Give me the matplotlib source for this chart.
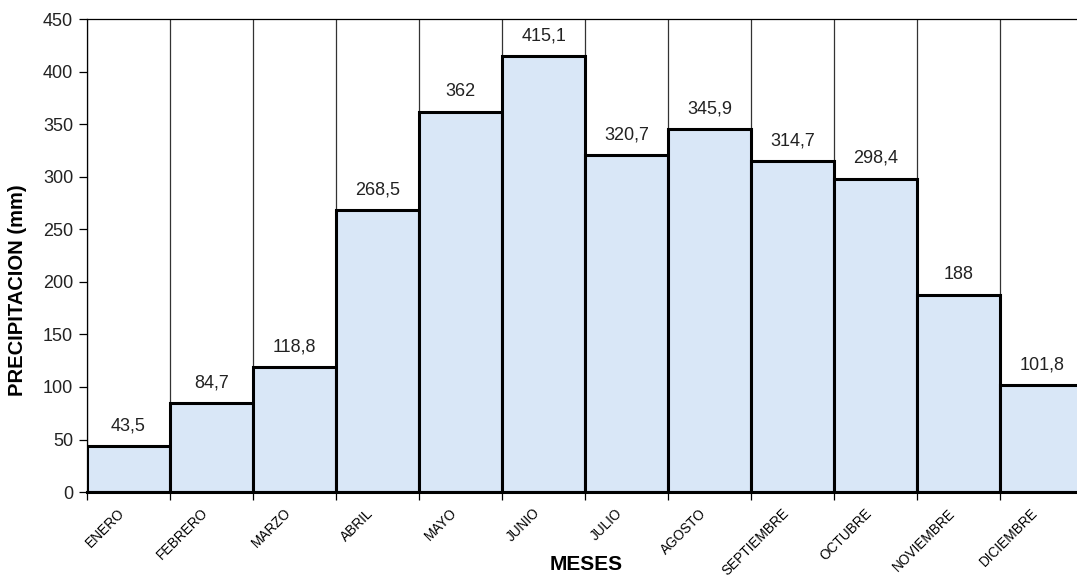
import numpy as np
import matplotlib
matplotlib.use("Agg")
import matplotlib.pyplot as plt
import matplotlib.transforms as mtransforms

plt.rcParams['font.family'] = ['Liberation Sans', 'DejaVu Sans']

# datos
meses = ["ENERO", "FEBRERO", "MARZO", "ABRIL", "MAYO", "JUNIO", "JULIO",
         "AGOSTO", "SEPTIEMBRE", "OCTUBRE", "NOVIEMBRE", "DICIEMBRE"]
precipitacion = [43.5, 84.7, 118.8, 268.5, 362, 415.1, 320.7, 345.9,
                 314.7, 298.4, 188, 101.8]

fig = plt.figure(figsize=(10.77, 5.83), dpi=100)
ax = fig.add_axes([0.0808, 0.156, 0.925, 0.811])

x = np.arange(len(meses))
ax.bar(x, precipitacion, width=1.0, color="#d9e7f7", edgecolor="black",
       linewidth=2.2, zorder=3)

# lineas verticales entre meses
for b in np.arange(-0.5, len(meses) + 0.5, 1.0):
    ax.axvline(b, color="#333333", linewidth=0.9, zorder=1)

# etiquetas de valores
for xi, v in zip(x, precipitacion):
    txt = f"{v:g}".replace(".", ",")
    ax.text(xi, v + 11, txt, ha="center", va="bottom", fontsize=13,
            color="#222222", zorder=4)

ax.set_xlim(-0.5, len(meses) - 0.5)
ax.set_ylim(0, 450)
ax.set_yticks(np.arange(0, 451, 50))
ax.tick_params(axis="y", labelsize=13, length=6, width=0.9, pad=4,
               labelcolor="#222222")

ax.set_xticks(np.arange(-0.5, len(meses) + 0.5, 1.0))
ax.set_xticklabels([])
ax.tick_params(axis="x", which="major", length=6, width=0.9)
ax.set_xticks(x, minor=True)
ax.set_xticklabels(meses, minor=True, rotation=45, ha="right",
                   rotation_mode="anchor", fontsize=9.8)
ax.tick_params(axis="x", which="minor", length=0, pad=10)
shift = mtransforms.ScaledTranslation(-11 / 100, 0, fig.dpi_scale_trans)
for lbl in ax.get_xticklabels(minor=True):
    lbl.set_transform(lbl.get_transform() + shift)

ax.spines["right"].set_visible(False)
ax.spines["top"].set_linewidth(0.9)
ax.spines["left"].set_linewidth(0.9)
ax.spines["bottom"].set_linewidth(2.2)
ax.spines["bottom"].set_zorder(5)

ax.set_ylabel("PRECIPITACION (mm)", fontsize=14.5, fontweight="bold")
ax.yaxis.set_label_coords(-0.060, 0.427)
fig.text(0.544, 0.016, "MESES", ha="center", va="bottom", fontsize=15,
         fontweight="bold")

fig.savefig("out.png", dpi=100)
